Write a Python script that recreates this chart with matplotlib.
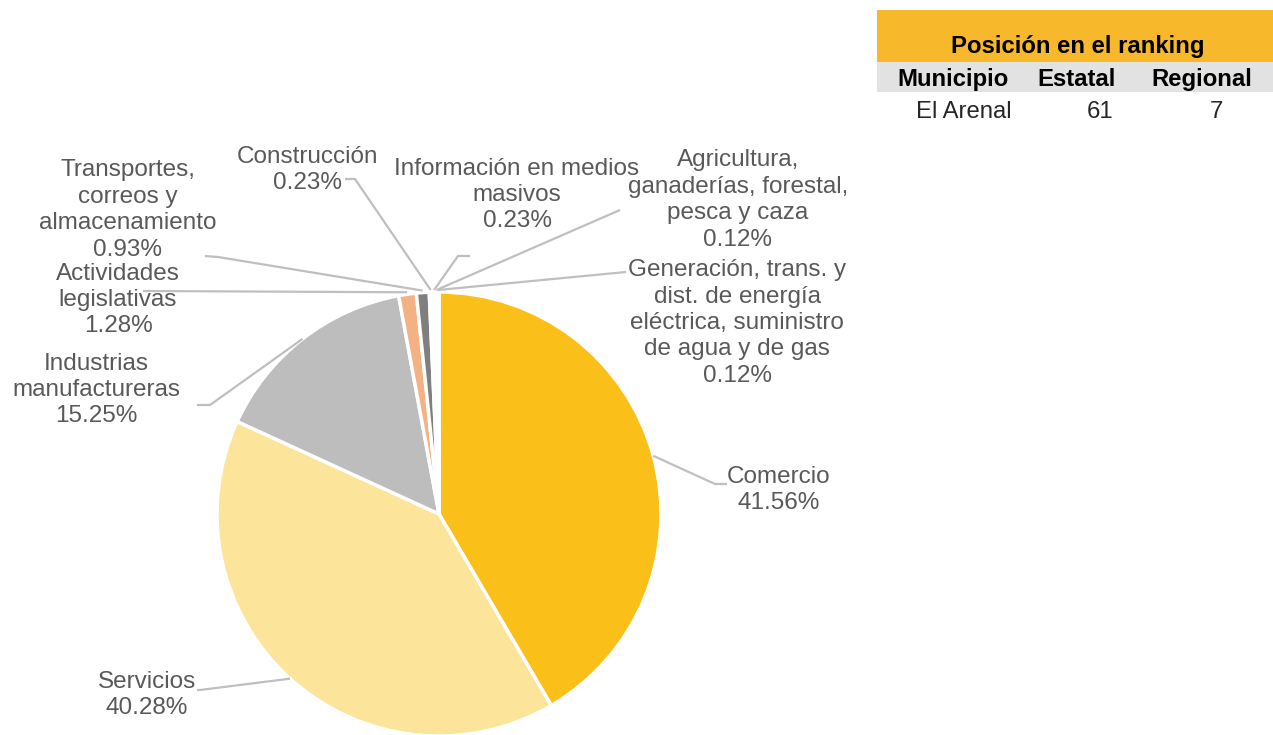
import matplotlib
matplotlib.use("Agg")
import matplotlib.pyplot as plt
import numpy as np
from matplotlib.patches import Rectangle

plt.rcParams['font.family'] = ['Liberation Sans', 'DejaVu Sans']

# ---- data ----
sectors = ["Comercio", "Servicios", "Industrias\nmanufactureras",
           "Actividades\nlegislativas", "Transportes,\ncorreos y\nalmacenamiento",
           "Construcción", "Información en medios\nmasivos",
           "Agricultura,\nganaderías, forestal,\npesca y caza",
           "Generación, trans. y\ndist. de energía\neléctrica, suministro\nde agua y de gas"]
shares = [41.56, 40.28, 15.25, 1.28, 0.93, 0.23, 0.23, 0.12, 0.12]
colors = ["#FBBF1A", "#FCE49B", "#BDBDBD", "#F4B183", "#7F7F7F",
          "#A5A5A5", "#FFC000", "#5B9BD5", "#70AD47"]

table_title = "Posición en el ranking"
table_headers = ["Municipio", "Estatal", "Regional"]
table_row = ["El Arenal", "61", "7"]

# ---- layout ----
W, H = 1273, 735
fig = plt.figure(figsize=(W / 100, H / 100), dpi=100)
ax = fig.add_axes([0, 0, 1, 1])

cx, cy, R = 439, H - 514, 222
wedges, _ = ax.pie(shares, colors=colors, startangle=90, counterclock=False,
                   center=(cx, cy), radius=R, frame=True,
                   wedgeprops=dict(edgecolor='white', linewidth=2.5))
ax.set_xlim(0, W)
ax.set_ylim(0, H)
ax.set_aspect('equal')
ax.axis('off')

text_color = "#595959"
line_color = "#BFBFBF"
fs = 17.5

# label centre positions (pixels, y from top) and elbow points
label_pos = [(779, 490), (147, 695), (96, 390), (118, 300), (128, 210),
             (308, 170), (517, 195), (738, 200), (737, 323)]
elbows = [[(715, 484), (727, 484)],
          [(200, 690), (197, 690)],
          [(210, 405), (197, 405)],
          [(143, 291)],
          [(218, 257), (205, 256)],
          [(355, 179), (345, 179)],
          [(458, 256), (470, 256)],
          [(620, 210)],
          [(626, 272)]]

for i, w in enumerate(wedges):
    ang = np.deg2rad((w.theta1 + w.theta2) / 2)
    r_anchor = R if i < 3 else R + 2
    x0 = cx + r_anchor * np.cos(ang)
    y0 = cy + r_anchor * np.sin(ang)
    xs = [x0] + [p[0] for p in elbows[i]]
    ys = [y0] + [H - p[1] for p in elbows[i]]
    ax.plot(xs, ys, color=line_color, lw=1.6, solid_capstyle='butt', zorder=1)
    lx, ly = label_pos[i]
    ax.text(lx, H - ly, f"{sectors[i]}\n{shares[i]:.2f}%", ha='center', va='center',
            fontsize=fs, color=text_color, linespacing=1.26)

# ---- ranking table ----
ax.add_patch(Rectangle((877, H - 62), W - 877, 52, facecolor="#F7B92B", edgecolor='none'))
ax.add_patch(Rectangle((877, H - 92), W - 877, 30, facecolor="#E2E2E2", edgecolor='none'))
tfs = 17.2
ax.text(1078, H - 46, table_title, ha='center', va='center', fontsize=tfs,
        fontweight='bold', color='black')
for x, t in zip([953, 1077, 1202], table_headers):
    ax.text(x, H - 79, t, ha='center', va='center', fontsize=tfs,
            fontweight='bold', color='black')
for x, t in zip([964, 1100, 1216], table_row):
    ax.text(x, H - 112, t, ha='center', va='center', fontsize=tfs, color='#262626')

fig.savefig("out.png", dpi=100)
